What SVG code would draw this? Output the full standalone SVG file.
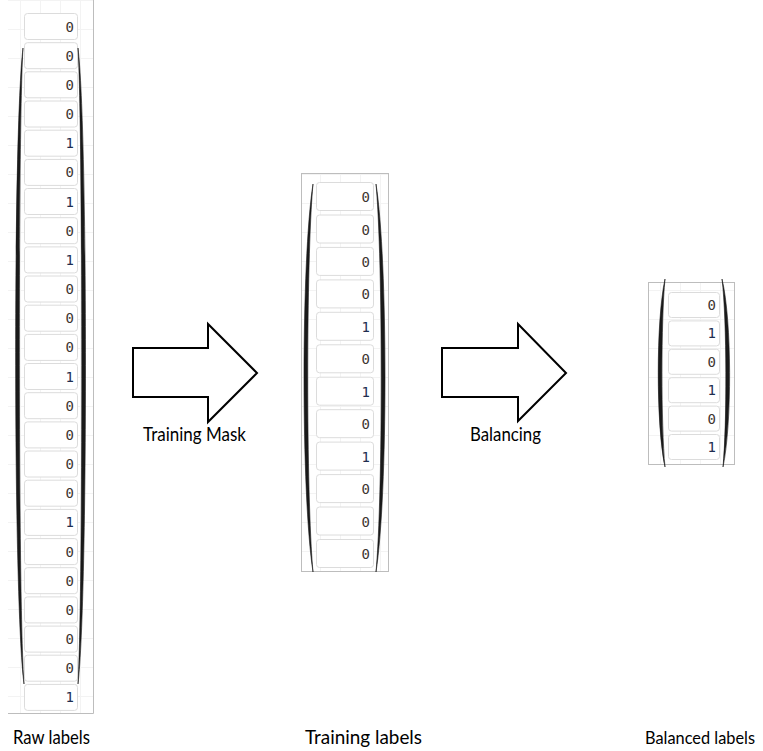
<svg xmlns="http://www.w3.org/2000/svg" width="763" height="751" viewBox="0 0 763 751">
  <defs>
    <style>
      .edge { stroke: #bdbdbd; stroke-width: 1; fill: none; }
      .cell { fill: #ffffff; stroke: #dcdcdc; stroke-width: 1; }
      .v { font-family: "DejaVu Sans Mono", "Liberation Mono", monospace; font-size: 14px; text-anchor: end; }
      .z { fill: #3d3631; }
      .o { fill: #1f2d50; }
      .paren { fill: #1a1a1a; stroke: #1a1a1a; stroke-width: 0.6; }
      .arrow { fill: #ffffff; stroke: #000000; stroke-width: 2; stroke-linejoin: miter; }
      .caption { font-family: Lato, "Open Sans", sans-serif; font-size: 19px; fill: #000000; text-anchor: middle; }
    </style>
    <pattern id="grid" width="20" height="29" patternUnits="userSpaceOnUse">
      <path d="M0 0.5 H20 M0.5 0 V29" stroke="#f3f3f3" stroke-width="1" fill="none"/>
    </pattern>
  </defs>

  <rect width="763" height="751" fill="#ffffff"/>

  <!-- Raw labels column -->
  <g id="raw-labels">
    <rect x="8" y="0" width="85" height="713" fill="url(#grid)"/>
    <path class="edge" d="M93.5 0 V713.5 H8"/>
    <g>
      <rect class="cell" x="24.5" y="13.5" width="53" height="26" rx="3"/>
      <rect class="cell" x="24.5" y="42.7" width="53" height="26" rx="3"/>
      <rect class="cell" x="24.5" y="71.8" width="53" height="26" rx="3"/>
      <rect class="cell" x="24.5" y="101" width="53" height="26" rx="3"/>
      <rect class="cell" x="24.5" y="130.2" width="53" height="26" rx="3"/>
      <rect class="cell" x="24.5" y="159.4" width="53" height="26" rx="3"/>
      <rect class="cell" x="24.5" y="188.5" width="53" height="26" rx="3"/>
      <rect class="cell" x="24.5" y="217.7" width="53" height="26" rx="3"/>
      <rect class="cell" x="24.5" y="246.9" width="53" height="26" rx="3"/>
      <rect class="cell" x="24.5" y="276" width="53" height="26" rx="3"/>
      <rect class="cell" x="24.5" y="305.2" width="53" height="26" rx="3"/>
      <rect class="cell" x="24.5" y="334.4" width="53" height="26" rx="3"/>
      <rect class="cell" x="24.5" y="363.5" width="53" height="26" rx="3"/>
      <rect class="cell" x="24.5" y="392.7" width="53" height="26" rx="3"/>
      <rect class="cell" x="24.5" y="421.9" width="53" height="26" rx="3"/>
      <rect class="cell" x="24.5" y="451" width="53" height="26" rx="3"/>
      <rect class="cell" x="24.5" y="480.2" width="53" height="26" rx="3"/>
      <rect class="cell" x="24.5" y="509.4" width="53" height="26" rx="3"/>
      <rect class="cell" x="24.5" y="538.6" width="53" height="26" rx="3"/>
      <rect class="cell" x="24.5" y="567.7" width="53" height="26" rx="3"/>
      <rect class="cell" x="24.5" y="596.9" width="53" height="26" rx="3"/>
      <rect class="cell" x="24.5" y="626.1" width="53" height="26" rx="3"/>
      <rect class="cell" x="24.5" y="655.2" width="53" height="26" rx="3"/>
      <rect class="cell" x="24.5" y="684.4" width="53" height="26" rx="3"/>
    </g>
    <g class="v">
      <text class="z" x="74" y="31.5">0</text>
      <text class="z" x="74" y="60.7">0</text>
      <text class="z" x="74" y="89.8">0</text>
      <text class="z" x="74" y="119">0</text>
      <text class="o" x="74" y="148.2">1</text>
      <text class="z" x="74" y="177.4">0</text>
      <text class="o" x="74" y="206.5">1</text>
      <text class="z" x="74" y="235.7">0</text>
      <text class="o" x="74" y="264.9">1</text>
      <text class="z" x="74" y="294">0</text>
      <text class="z" x="74" y="323.2">0</text>
      <text class="z" x="74" y="352.4">0</text>
      <text class="o" x="74" y="381.5">1</text>
      <text class="z" x="74" y="410.7">0</text>
      <text class="z" x="74" y="439.9">0</text>
      <text class="z" x="74" y="469">0</text>
      <text class="z" x="74" y="498.2">0</text>
      <text class="o" x="74" y="527.4">1</text>
      <text class="z" x="74" y="556.6">0</text>
      <text class="z" x="74" y="585.7">0</text>
      <text class="z" x="74" y="614.9">0</text>
      <text class="z" x="74" y="644.1">0</text>
      <text class="z" x="74" y="673.2">0</text>
      <text class="o" x="74" y="702.4">1</text>
    </g>
    <path class="paren" d="M23 48 C13 130 13 600 24 684 C18 600 18 130 23 48 Z"/>
    <path class="paren" d="M78 48 C88 130 88 600 78 684 C83 600 83 130 78 48 Z"/>
    <text class="caption" x="51.5" y="744" textLength="77" lengthAdjust="spacingAndGlyphs">Raw labels</text>
  </g>

  <!-- Training labels column -->
  <g id="training-labels">
    <rect x="301.5" y="173.5" width="87" height="398" fill="url(#grid)"/>
    <rect x="301.5" y="173.5" width="87" height="398" fill="none" stroke="#bdbdbd"/>
    <g>
      <rect class="cell" x="316.5" y="182.5" width="57" height="28" rx="3"/>
      <rect class="cell" x="316.5" y="215" width="57" height="28" rx="3"/>
      <rect class="cell" x="316.5" y="247.4" width="57" height="28" rx="3"/>
      <rect class="cell" x="316.5" y="279.9" width="57" height="28" rx="3"/>
      <rect class="cell" x="316.5" y="312.3" width="57" height="28" rx="3"/>
      <rect class="cell" x="316.5" y="344.8" width="57" height="28" rx="3"/>
      <rect class="cell" x="316.5" y="377.2" width="57" height="28" rx="3"/>
      <rect class="cell" x="316.5" y="409.7" width="57" height="28" rx="3"/>
      <rect class="cell" x="316.5" y="442.1" width="57" height="28" rx="3"/>
      <rect class="cell" x="316.5" y="474.6" width="57" height="28" rx="3"/>
      <rect class="cell" x="316.5" y="507" width="57" height="28" rx="3"/>
      <rect class="cell" x="316.5" y="539.5" width="57" height="28" rx="3"/>
    </g>
    <g class="v">
      <text class="z" x="370" y="202">0</text>
      <text class="z" x="370" y="234.5">0</text>
      <text class="z" x="370" y="266.9">0</text>
      <text class="z" x="370" y="299.4">0</text>
      <text class="o" x="370" y="331.8">1</text>
      <text class="z" x="370" y="364.3">0</text>
      <text class="o" x="370" y="396.7">1</text>
      <text class="z" x="370" y="429.2">0</text>
      <text class="o" x="370" y="461.6">1</text>
      <text class="z" x="370" y="494.1">0</text>
      <text class="z" x="370" y="526.5">0</text>
      <text class="z" x="370" y="559">0</text>
    </g>
    <path class="paren" d="M313 184 C301 260 301 495 313 572 C306 495 306 260 313 184 Z"/>
    <path class="paren" d="M376 184 C388 260 388 495 376 572 C383 495 383 260 376 184 Z"/>
    <text class="caption" x="363.5" y="744" textLength="117" lengthAdjust="spacingAndGlyphs">Training labels</text>
  </g>

  <!-- Balanced labels column -->
  <g id="balanced-labels">
    <rect x="648.5" y="282.5" width="86" height="182" fill="url(#grid)"/>
    <rect x="648.5" y="282.5" width="86" height="182" fill="none" stroke="#bdbdbd"/>
    <g>
      <rect class="cell" x="668.5" y="292.5" width="51" height="25" rx="3"/>
      <rect class="cell" x="668.5" y="320.9" width="51" height="25" rx="3"/>
      <rect class="cell" x="668.5" y="349.3" width="51" height="25" rx="3"/>
      <rect class="cell" x="668.5" y="377.7" width="51" height="25" rx="3"/>
      <rect class="cell" x="668.5" y="406.1" width="51" height="25" rx="3"/>
      <rect class="cell" x="668.5" y="434.5" width="51" height="25" rx="3"/>
    </g>
    <g class="v">
      <text class="z" x="716" y="310">0</text>
      <text class="o" x="716" y="338.4">1</text>
      <text class="z" x="716" y="366.8">0</text>
      <text class="o" x="716" y="395.2">1</text>
      <text class="z" x="716" y="423.6">0</text>
      <text class="o" x="716" y="452">1</text>
    </g>
    <path class="paren" d="M665 279 C656 320 656 425 665 467 C661 425 661 320 665 279 Z"/>
    <path class="paren" d="M722 279 C732 320 732 425 723 467 C727 425 727 320 722 279 Z"/>
    <text class="caption" x="700" y="744" style="font-size:17.5px" textLength="110" lengthAdjust="spacingAndGlyphs">Balanced labels</text>
  </g>

  <!-- Step arrows -->
  <g id="connectors">
    <g id="training-mask">
      <polygon class="arrow" points="133,348 208,348 208,324 257,373 208,422 208,397 133,397"/>
      <text class="caption" x="194.5" y="441" textLength="103" lengthAdjust="spacingAndGlyphs">Training Mask</text>
    </g>
    <g id="balancing">
      <polygon class="arrow" points="442,348 518,348 518,324 566,373 518,421 518,397 442,397"/>
      <text class="caption" x="505.5" y="441" textLength="71" lengthAdjust="spacingAndGlyphs">Balancing</text>
    </g>
  </g>
</svg>
